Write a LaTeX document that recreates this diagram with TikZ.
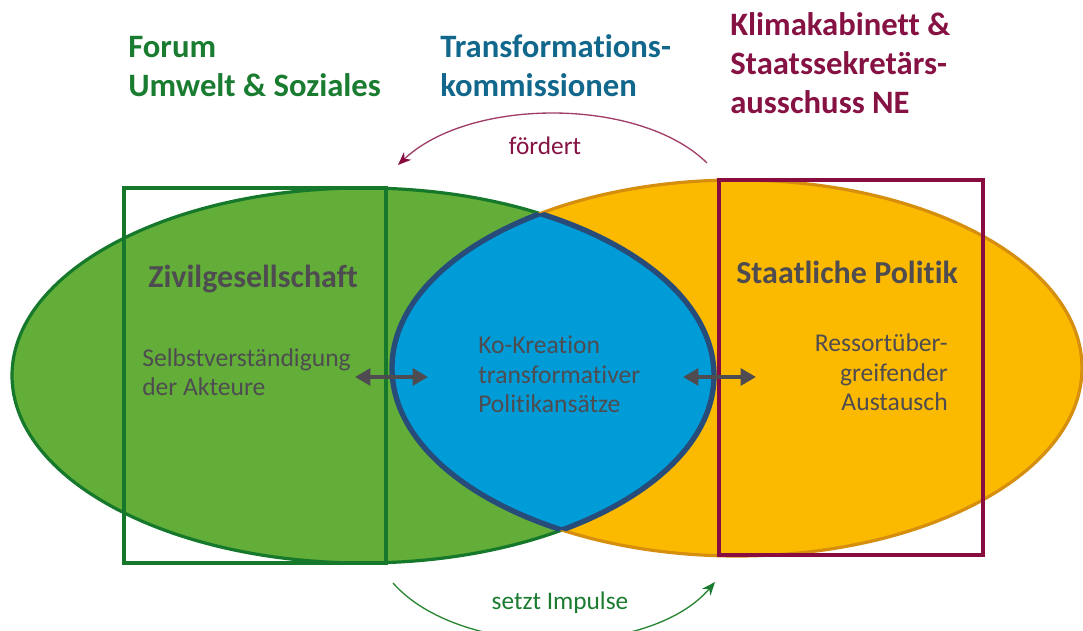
\documentclass[tikz,border=0pt]{standalone}
\usepackage{fontspec}
\setmainfont{Carlito}[Ligatures=NoCommon]
\usetikzlibrary{arrows.meta}
\definecolor{gfill}{RGB}{98,174,56}
\definecolor{gline}{RGB}{22,120,42}
\definecolor{ofill}{RGB}{251,186,0}
\definecolor{oline}{RGB}{214,142,14}
\definecolor{bfill}{RGB}{0,156,215}
\definecolor{bline}{RGB}{40,76,122}
\definecolor{maroon}{RGB}{136,12,64}
\definecolor{maroonlight}{RGB}{160,62,104}
\definecolor{tgreen}{RGB}{26,124,48}
\definecolor{tblue}{RGB}{18,104,140}
\definecolor{tmaroon}{RGB}{134,18,68}
\definecolor{tgray}{RGB}{78,76,80}
\tikzset{
  titletext/.style={font=\bfseries\fontsize{24.5}{29.25}\selectfont, align=left, inner sep=0pt},
  headtext/.style={font=\bfseries\fontsize{24}{28}\selectfont, text=tgray, inner sep=0pt},
  bodytext/.style={font=\fontsize{19.2}{22.2}\selectfont, text=tgray, inner sep=0pt},
  arctext/.style={font=\fontsize{19}{22}\selectfont, inner sep=0pt},
  dblarrow/.style={draw=tgray, line width=3.4pt, {Triangle[length=11.5pt,width=12.5pt]}-{Triangle[length=11.5pt,width=12.5pt]}},
  curvearrow/.style={line width=1pt, -{Stealth[length=10pt,width=8pt]}},
}
\begin{document}
\begin{tikzpicture}[x=0.75pt,y=0.75pt]
\useasboundingbox (0,0) rectangle (1083,631);
% ellipses
\fill[gfill] (363,255.5) ellipse [x radius=351, y radius=187.5];
\draw[gline, line width=2.4pt] (363,255.5) ellipse [x radius=351, y radius=187.5];
\fill[ofill] (737,263) ellipse [x radius=345, y radius=188];
\draw[oline, line width=2.4pt] (737,263) ellipse [x radius=345, y radius=188];
% lens
\begin{scope}
  \clip (363,255.5) ellipse [x radius=351, y radius=187.5];
  \fill[bfill] (737,263) ellipse [x radius=345, y radius=188];
  \draw[bline, line width=4pt] (737,263) ellipse [x radius=345, y radius=188];
\end{scope}
\begin{scope}
  \clip (737,263) ellipse [x radius=345, y radius=188];
  \draw[bline, line width=4pt] (363,255.5) ellipse [x radius=351, y radius=187.5];
\end{scope}
% rectangles
\draw[gline, line width=3pt] (124,443) rectangle (386,68);
\draw[maroon, line width=3pt] (719,451) rectangle (983,76);
% titles (anchor = baseline of last line)
\node[titletext, text=tgreen, anchor=base west] (forum) at (128,534) {Forum\\Umwelt \& Soziales};
\node[titletext, text=tblue, anchor=base west] (trans) at (440,534) {Transformations-\\kommissionen};
\node[titletext, text=tmaroon, anchor=base west] (klima) at (730,517) {Klimakabinett \&\\Staatssekretärs-\\ausschuss NE};
% heads
\node[headtext, anchor=base west] (zivil) at (148,343) {Zivilgesellschaft};
\node[headtext, anchor=base west] (staat) at (736,347) {Staatliche Politik};
% body
\node[bodytext, align=left, anchor=base west] (selbst) at (142,235) {Selbstverständigung\\der Akteure};
\node[bodytext, align=left, anchor=base west] (kokre) at (478,218) {Ko-Kreation\\transformativer\\Politikansätze};
\node[bodytext, align=right, anchor=base east] (ressort) at (948,220) {Ressortüber-\\greifender\\Austausch};
% double arrows
\coordinate (la) at (355,254);
\coordinate (lb) at (428,254);
\coordinate (ra) at (683,254);
\coordinate (rb) at (756,254);
\draw[dblarrow] (la) -- (lb);
\draw[dblarrow] (ra) -- (rb);
% curved arrows
\coordinate (fs) at (707,468);
\coordinate (fe) at (398,466);
\draw[curvearrow, draw=maroonlight, -{Stealth[length=10pt,width=8pt,color=maroon]}] (fs) .. controls (640,534) and (470,534) .. (fe);
\node[arctext, text=tmaroon, anchor=base] (foerd) at (545,476) {fördert};
\coordinate (ss) at (393,48);
\coordinate (se) at (715,49);
\draw[curvearrow, draw=tgreen!80!gfill, -{Stealth[length=10pt,width=8pt,color=tgreen]}] (ss) .. controls (460,-28) and (650,-28) .. (se);
\node[arctext, text=tgreen, anchor=base] (setzt) at (560,21) {setzt Impulse};
\end{tikzpicture}
\end{document}
